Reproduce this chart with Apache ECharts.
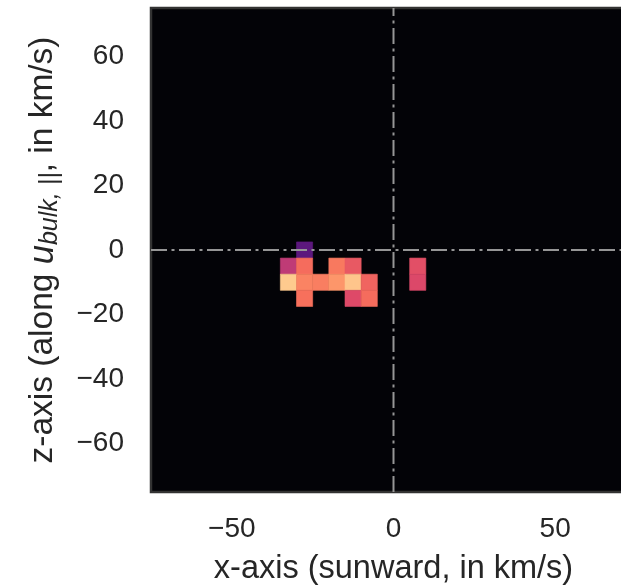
<!DOCTYPE html>
<html>
<head>
<meta charset="utf-8">
<script src="https://cdn.jsdelivr.net/npm/echarts@6/dist/echarts.min.js"></script>
<style>
  html, body { margin: 0; padding: 0; background: #ffffff; }
  #chart { width: 621px; height: 587px; }
</style>
</head>
<body>
<div id="chart"></div>
<script>
// bin centres (km/s), 5 km/s bins
const xCenters = [-32.5, -27.5, -22.5, -17.5, -12.5, -7.5, 7.5];
const zCenters = [0, -5, -10, -15];

// normalised density per occupied bin
const binX = [-27.5, -32.5, -27.5, -17.5, -12.5, 7.5, -32.5, -27.5, -22.5, -17.5, -12.5, -7.5, 7.5, -27.5, -12.5, -7.5];
const binZ = [0, -5, -5, -5, -5, -5, -10, -10, -10, -10, -10, -10, -10, -15, -15, -15];
const binV = [0.28, 0.52, 0.69, 0.72, 0.64, 0.615, 0.89, 0.74, 0.73, 0.78, 0.88, 0.67, 0.595, 0.70, 0.60, 0.69];

const binSize = 5;
const xTicks = [-50, 0, 50];
const zTicks = [-60, -40, -20, 0, 20, 40, 60];

const magma = ["#000004", "#140e36", "#3b0f70", "#641a80", "#8c2981", "#b73779",
  "#de4968", "#f7705c", "#fe9f6d", "#fecf92", "#fcfdbf"];

const textColor = "#262626";
const fontFamily = "Liberation Sans, Arial, sans-serif";

function tickText(list) {
  return (v) => (list.indexOf(v) >= 0 ? (v < 0 ? "\u2212" + Math.abs(v) : String(v)) : "");
}

function renderBin(params, api) {
  const x = api.value(0);
  const z = api.value(1);
  const p0 = api.coord([x - binSize / 2, z + binSize / 2]);
  const p1 = api.coord([x + binSize / 2, z - binSize / 2]);
  const color = api.visual("color");
  return {
    type: "rect",
    shape: { x: p0[0], y: p0[1], width: p1[0] - p0[0], height: p1[1] - p0[1] },
    style: { fill: color, stroke: color, lineWidth: 0.6 }
  };
}

const dashDot = { color: "#969696", width: 2, type: [16, 4.5, 3, 4.5] };

const chart = echarts.init(document.getElementById("chart"), null, { renderer: "canvas" });

chart.setOption({
  animation: false,
  backgroundColor: "#ffffff",
  grid: {
    show: true,
    left: 151,
    top: 8,
    width: 485,
    height: 484,
    outerBoundsMode: "none",
    containLabel: false,
    backgroundColor: "#030307",
    borderColor: "#333333",
    borderWidth: 2.5
  },
  visualMap: {
    show: false,
    type: "continuous",
    dimension: 2,
    min: 0,
    max: 1,
    inRange: { color: magma }
  },
  xAxis: {
    type: "value",
    min: -75,
    max: 75,
    interval: 25,
    axisLine: { show: false },
    axisTick: { show: false },
    splitLine: { show: false },
    axisLabel: {
      margin: 23,
      color: textColor,
      fontSize: 28,
      fontFamily,
      formatter: tickText(xTicks)
    },
    name: "x-axis (sunward, in km/s)",
    nameLocation: "middle",
    nameGap: 61,
    nameTextStyle: { color: textColor, fontSize: 32.5, fontFamily, verticalAlign: "top" }
  },
  yAxis: {
    type: "value",
    min: -75,
    max: 75,
    interval: 5,
    axisLine: { show: false },
    axisTick: { show: false },
    splitLine: { show: false },
    axisLabel: {
      margin: 27,
      color: textColor,
      fontSize: 28,
      fontFamily,
      padding: [4, 0, 0, 0],
      formatter: tickText(zTicks)
    },
    name: "{t|z-axis (along }{u|u}{s|bulk, ||}{t|, in km/s)}",
    nameLocation: "middle",
    nameRotate: 90,
    nameGap: 88,
    nameTextStyle: {
      color: textColor,
      fontFamily,
      rich: {
        t: { fontSize: 33.5, lineHeight: 40, color: textColor, fontFamily },
        u: { fontSize: 34.5, lineHeight: 40, fontStyle: "italic", color: textColor, fontFamily },
        s: { fontSize: 25, lineHeight: 25, padding: [15, 0, 0, 0], fontStyle: "italic", color: textColor, fontFamily }
      }
    }
  },
  series: [
    {
      type: "custom",
      renderItem: renderBin,
      data: binV.map((v, i) => [binX[i], binZ[i], v]),
      z: 2
    },
    {
      type: "line",
      data: [[0, -75], [0, 75]],
      symbol: "none",
      lineStyle: dashDot,
      z: 5,
      silent: true
    },
    {
      type: "line",
      data: [[-75, 0], [75, 0]],
      symbol: "none",
      lineStyle: dashDot,
      z: 5,
      silent: true
    }
  ]
});
</script>
</body>
</html>
